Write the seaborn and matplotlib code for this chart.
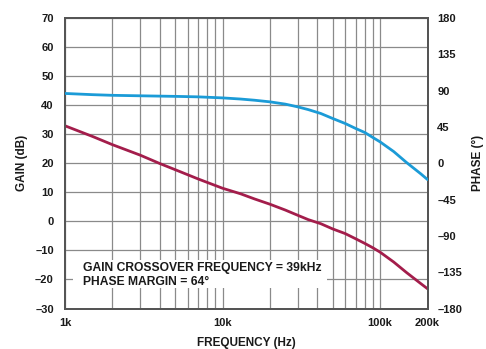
import matplotlib
matplotlib.use("Agg")
import matplotlib.pyplot as plt
from matplotlib.patches import Rectangle
from matplotlib.ticker import FixedLocator, NullFormatter
import pandas as pd
import seaborn as sns

# Open-loop response samples
freq_hz = [1000, 1500, 2000, 3000, 4000, 5000, 7000, 10000, 13000, 16000,
           20000, 25000, 30000, 35000, 42000, 50000, 60000, 70000, 80000,
           90000, 100000, 122000, 147000, 181000, 200000]
gain_db = [32.9, 29.2, 26.4, 22.8, 19.9, 17.8, 14.6, 11.4, 9.5, 7.7,
           5.9, 3.9, 2.1, 0.6, -0.8, -2.6, -4.2, -6.0, -7.6,
           -9.1, -10.6, -14.0, -17.6, -21.4, -23.2]
phase_deg = [86.5, 85.0, 84.2, 83.6, 83.2, 82.9, 82.3, 81.0, 79.6, 78.1,
             76.1, 73.3, 69.9, 66.5, 61.7, 55.5, 49.3, 43.1, 38.1,
             31.9, 26.5, 14.5, 1.0, -13.0, -20.2]

x_ticks = [1000, 10000, 100000, 200000]
x_tick_labels = ["1k", "10k", "100k", "200k"]
gain_ticks = list(range(-30, 71, 10))
phase_ticks = list(range(-180, 181, 45))
note_lines = ["GAIN CROSSOVER FREQUENCY = 39kHz", "PHASE MARGIN = 64°"]

GAIN_COLOR = "#a31d4b"
PHASE_COLOR = "#1b9bd7"
GRID_COLOR = "#8a8a8a"
SPINE_COLOR = "#555555"
TEXT_COLOR = "#1a1a1a"

df = pd.DataFrame({"freq": freq_hz, "gain": gain_db, "phase": phase_deg})

sns.set_theme(style="white")
plt.rcParams["font.family"] = ["Liberation Sans", "DejaVu Sans"]
plt.rcParams["font.weight"] = "bold"


def dash(v):
    return f"{v}".replace("-", "\u2013")


fig = plt.figure(figsize=(4.86, 3.49), dpi=100)
ax = fig.add_axes([0.1337, 0.116, 0.7460, 0.8324])
ax2 = ax.twinx()

sns.lineplot(data=df, x="freq", y="gain", ax=ax, color=GAIN_COLOR,
             linewidth=2.0, zorder=3)
sns.lineplot(data=df, x="freq", y="phase", ax=ax2, color=PHASE_COLOR,
             linewidth=2.0, zorder=3)

ax.set_xscale("log")
ax.set_xlim(1000, 200000)
ax.set_ylim(-30, 70)
ax2.set_ylim(-180, 180)

# gridlines on every decade subdivision
minor = [m * 10 ** e for e in (3, 4) for m in range(2, 10)]
ax.xaxis.set_major_locator(FixedLocator(x_ticks))
ax.xaxis.set_minor_locator(FixedLocator(minor))
ax.xaxis.set_minor_formatter(NullFormatter())
ax.set_xticklabels(x_tick_labels)
ax.set_yticks(gain_ticks)
ax.set_yticklabels([dash(v) for v in gain_ticks])
ax2.set_yticks(phase_ticks)
ax2.set_yticklabels([dash(v) for v in phase_ticks])

ax.grid(True, which="both", axis="x", color=GRID_COLOR, linewidth=0.9)
ax.grid(True, which="major", axis="y", color=GRID_COLOR, linewidth=0.9)
ax.set_axisbelow(True)

ax.tick_params(axis="both", which="both", length=0, labelsize=8,
               colors=TEXT_COLOR)
ax.tick_params(axis="x", pad=7)
ax.tick_params(axis="y", pad=8)
ax2.tick_params(axis="y", length=0, labelsize=8, pad=7, colors=TEXT_COLOR)

for a in (ax, ax2):
    for s in a.spines.values():
        s.set_color(SPINE_COLOR)
        s.set_linewidth(1.4)

ax.set_xlabel("FREQUENCY (Hz)", fontsize=8.5, fontweight="bold",
              labelpad=6, color=TEXT_COLOR)
ax.set_ylabel("GAIN (dB)", fontsize=8.5, fontweight="bold",
              labelpad=5, color=TEXT_COLOR)
ax2.set_ylabel("PHASE (°)", fontsize=8.5, fontweight="bold",
               labelpad=7, color=TEXT_COLOR)

# annotation block on a white patch that hides the grid behind it
ax2.add_patch(Rectangle((0.022, 0.0706), 0.70, 0.096,
                        transform=ax2.transAxes, facecolor="white",
                        edgecolor="none", zorder=4))
ax2.text(0.0497, 0.1404, note_lines[0], transform=ax2.transAxes,
         ha="left", va="center", fontsize=8.7, fontweight="bold",
         color=TEXT_COLOR, zorder=5)
ax2.text(0.0497, 0.0923, note_lines[1], transform=ax2.transAxes,
         ha="left", va="center", fontsize=8.7, fontweight="bold",
         color=TEXT_COLOR, zorder=5)

fig.savefig("out.png", dpi=100, facecolor="white")
